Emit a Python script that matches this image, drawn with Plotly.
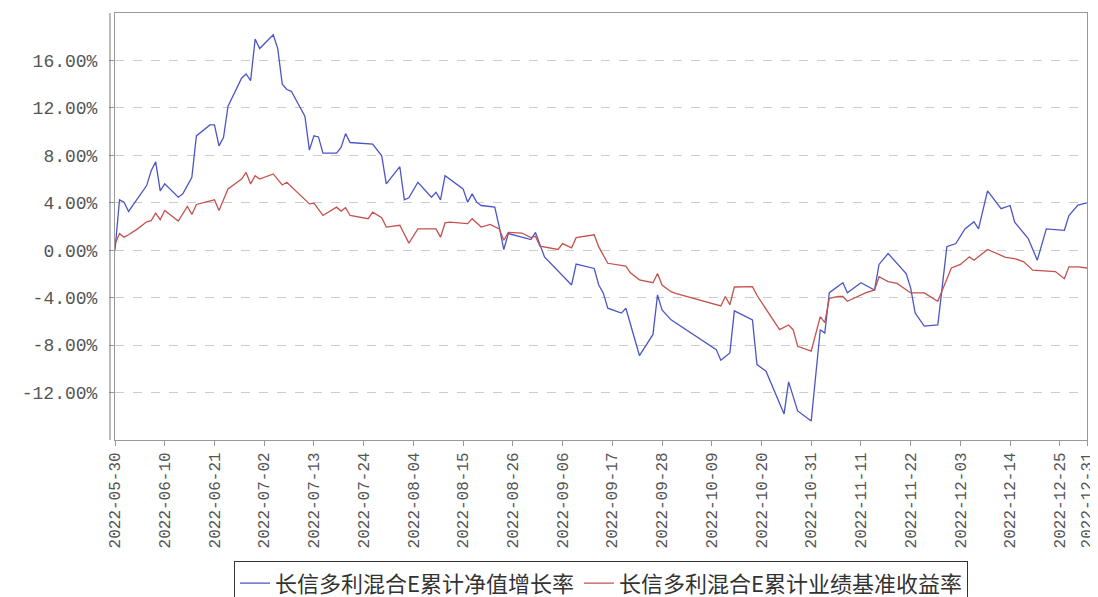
import plotly.graph_objects as go

# ---- data ----
nav_dates = ["2022-05-30","2022-05-31","2022-06-01","2022-06-02","2022-06-06","2022-06-07","2022-06-08","2022-06-09","2022-06-10",
             "2022-06-13","2022-06-14","2022-06-15","2022-06-16","2022-06-17","2022-06-20","2022-06-21","2022-06-22","2022-06-23","2022-06-24",
             "2022-06-27","2022-06-28","2022-06-29","2022-06-30","2022-07-01","2022-07-04","2022-07-05","2022-07-06","2022-07-07","2022-07-08",
             "2022-07-11","2022-07-12","2022-07-13","2022-07-14","2022-07-15","2022-07-18","2022-07-19","2022-07-20","2022-07-21","2022-07-26",
             "2022-07-28","2022-07-29","2022-08-01","2022-08-02","2022-08-03","2022-08-05","2022-08-08","2022-08-09","2022-08-10","2022-08-11",
             "2022-08-15","2022-08-16","2022-08-17","2022-08-18","2022-08-19","2022-08-22","2022-08-23","2022-08-24","2022-08-25","2022-08-30",
             "2022-08-31","2022-09-02","2022-09-08","2022-09-09","2022-09-13","2022-09-14","2022-09-15","2022-09-16","2022-09-19","2022-09-20",
             "2022-09-23","2022-09-26","2022-09-27","2022-09-28","2022-09-30","2022-10-10","2022-10-11","2022-10-13","2022-10-14","2022-10-18",
             "2022-10-19","2022-10-21","2022-10-25","2022-10-26","2022-10-28","2022-10-31","2022-11-02","2022-11-03","2022-11-04","2022-11-07",
             "2022-11-08","2022-11-11","2022-11-14","2022-11-15","2022-11-17","2022-11-21","2022-11-22","2022-11-23","2022-11-25","2022-11-28",
             "2022-11-29","2022-11-30","2022-12-02","2022-12-04","2022-12-06","2022-12-07","2022-12-09","2022-12-12","2022-12-14","2022-12-15",
             "2022-12-18","2022-12-20","2022-12-22","2022-12-26","2022-12-27","2022-12-29","2022-12-31"]
nav_growth = [0.0,4.25,4.05,3.27,5.45,6.7,7.45,5.0,5.6,
              4.47,4.75,5.45,6.14,9.64,10.56,10.56,8.8,9.5,12.15,
              14.5,14.86,14.3,17.8,17.0,18.16,17.0,14.0,13.55,13.4,
              11.3,8.44,9.64,9.55,8.18,8.18,8.66,9.83,9.08,8.94,
              7.96,5.59,7.04,4.25,4.42,5.73,4.47,4.89,4.25,6.29,
              5.17,4.05,4.75,4.05,3.77,3.63,1.95,0.06,1.4,0.9,
              1.5,-0.56,-2.93,-1.17,-1.54,-2.93,-3.6,-4.89,-5.3,-4.89,
              -8.88,-7.1,-3.77,-5.03,-5.87,-8.38,-9.28,-8.66,-5.11,-5.87,
              -9.64,-10.2,-13.8,-11.1,-13.55,-14.4,-6.7,-6.98,-3.58,-2.74,
              -3.58,-2.74,-3.35,-1.2,-0.28,-1.96,-3.2,-5.3,-6.4,-6.3,
              -3.0,0.3,0.56,1.8,2.4,1.8,5.0,3.5,3.77,2.37,
              0.98,-0.84,1.8,1.68,2.93,3.8,4.0]

bench_dates = ["2022-05-30","2022-05-31","2022-06-01","2022-06-02","2022-06-04","2022-06-06","2022-06-07","2022-06-08","2022-06-09","2022-06-10",
               "2022-06-13","2022-06-15","2022-06-16","2022-06-17","2022-06-21","2022-06-22","2022-06-24","2022-06-27","2022-06-28","2022-06-29",
               "2022-06-30","2022-07-01","2022-07-04","2022-07-06","2022-07-07","2022-07-12","2022-07-13","2022-07-15","2022-07-18","2022-07-19",
               "2022-07-20","2022-07-21","2022-07-25","2022-07-26","2022-07-28","2022-07-29","2022-08-01","2022-08-03","2022-08-05","2022-08-06",
               "2022-08-09","2022-08-10","2022-08-11","2022-08-12","2022-08-16","2022-08-17","2022-08-19","2022-08-21","2022-08-23","2022-08-24",
               "2022-08-25","2022-08-28","2022-08-30","2022-08-31","2022-09-01","2022-09-05","2022-09-06","2022-09-08","2022-09-09","2022-09-13",
               "2022-09-14","2022-09-16","2022-09-20","2022-09-21","2022-09-23","2022-09-26","2022-09-27","2022-09-28","2022-09-30","2022-10-01",
               "2022-10-11","2022-10-12","2022-10-13","2022-10-14","2022-10-18","2022-10-19","2022-10-24","2022-10-26","2022-10-27","2022-10-28",
               "2022-10-31","2022-11-02","2022-11-03","2022-11-04","2022-11-06","2022-11-07","2022-11-08","2022-11-12","2022-11-14","2022-11-15",
               "2022-11-17","2022-11-19","2022-11-22","2022-11-25","2022-11-28","2022-12-01","2022-12-03","2022-12-05","2022-12-06","2022-12-09",
               "2022-12-13","2022-12-15","2022-12-17","2022-12-19","2022-12-24","2022-12-26","2022-12-27","2022-12-29","2022-12-31"]
bench_return = [0.5,1.4,1.1,1.3,1.8,2.4,2.5,3.13,2.57,3.35,
                2.46,3.69,3.02,3.86,4.25,3.35,5.17,6.0,6.56,5.59,
                6.29,6.0,6.43,5.5,5.73,3.91,3.97,2.93,3.63,3.3,
                3.58,2.93,2.66,3.21,2.74,1.95,2.1,0.6,1.8,1.8,
                1.8,1.1,2.3,2.37,2.24,2.66,1.95,2.18,1.8,0.84,
                1.5,1.45,1.06,1.17,0.34,0.06,0.56,0.2,1.06,1.3,
                0.28,-1.1,-1.34,-1.9,-2.5,-2.74,-1.96,-2.93,-3.5,-3.63,
                -4.7,-3.9,-4.6,-3.1,-3.07,-3.8,-6.7,-6.3,-6.7,-8.1,
                -8.5,-5.6,-6.1,-4.05,-3.9,-3.9,-4.3,-3.6,-3.35,-2.24,
                -2.65,-2.8,-3.6,-3.6,-4.3,-1.5,-1.2,-0.56,-0.84,0.06,
                -0.6,-0.7,-0.98,-1.68,-1.8,-2.4,-1.4,-1.4,-1.5]

x_ticks = ["2022-05-30","2022-06-10","2022-06-21","2022-07-02","2022-07-13","2022-07-24","2022-08-04","2022-08-15",
           "2022-08-26","2022-09-06","2022-09-17","2022-09-28","2022-10-09","2022-10-20","2022-10-31","2022-11-11",
           "2022-11-22","2022-12-03","2022-12-14","2022-12-25","2022-12-31"]
y_ticks = [-12, -8, -4, 0, 4, 8, 12, 16]
y_ticktext = ["%.2f%%" % v for v in y_ticks]

name_nav = "长信多利混合E累计净值增长率"
name_bench = "长信多利混合E累计业绩基准收益率"

fig = go.Figure()
fig.add_trace(go.Scatter(x=nav_dates, y=nav_growth, mode="lines", name=name_nav,
                         line=dict(color="#4b55c6", width=1.3)))
fig.add_trace(go.Scatter(x=bench_dates, y=bench_return, mode="lines", name=name_bench,
                         line=dict(color="#c4524e", width=1.3)))

fig.update_layout(
    width=1090, height=589,
    margin=dict(l=107, r=11, t=5, b=157, autoexpand=False),
    paper_bgcolor="white", plot_bgcolor="white",
    showlegend=True,
    legend=dict(orientation="h", x=0.5, xanchor="center", y=-0.284, yanchor="top",
                font=dict(family="Noto Sans CJK SC", size=22, color="#333333"),
                bordercolor="#333333", borderwidth=1, bgcolor="white",
                itemwidth=30, tracegroupgap=0),
    xaxis=dict(type="date", range=["2022-05-30", "2022-12-31"],
               tickmode="array", tickvals=x_ticks, ticktext=x_ticks,
               tickangle=-90, tickfont=dict(family="Liberation Mono", size=16, color="#555555"),
               ticks="outside", ticklen=5, tickcolor="#999999",
               showgrid=False, showline=True, linecolor="#999999", linewidth=1, mirror=True,
               zeroline=False, automargin=False),
    yaxis=dict(range=[-16, 20], tickmode="array", tickvals=y_ticks, ticktext=y_ticktext,
               tickfont=dict(family="Liberation Mono", size=18, color="#555555"),
               ticks="outside", ticklen=5, tickcolor="#999999", ticklabelstandoff=8,
               showgrid=True, gridcolor="#cccccc", griddash="dash", gridwidth=1,
               showline=True, linecolor="#999999", linewidth=1, mirror=True,
               zeroline=False, automargin=False),
)

# secondary axis line just left of the plot frame
fig.add_shape(type="line", xref="paper", yref="paper", x0=-5/972, x1=-5/972, y0=0, y1=1,
              line=dict(color="#777777", width=1))

fig.write_html("out.html")
